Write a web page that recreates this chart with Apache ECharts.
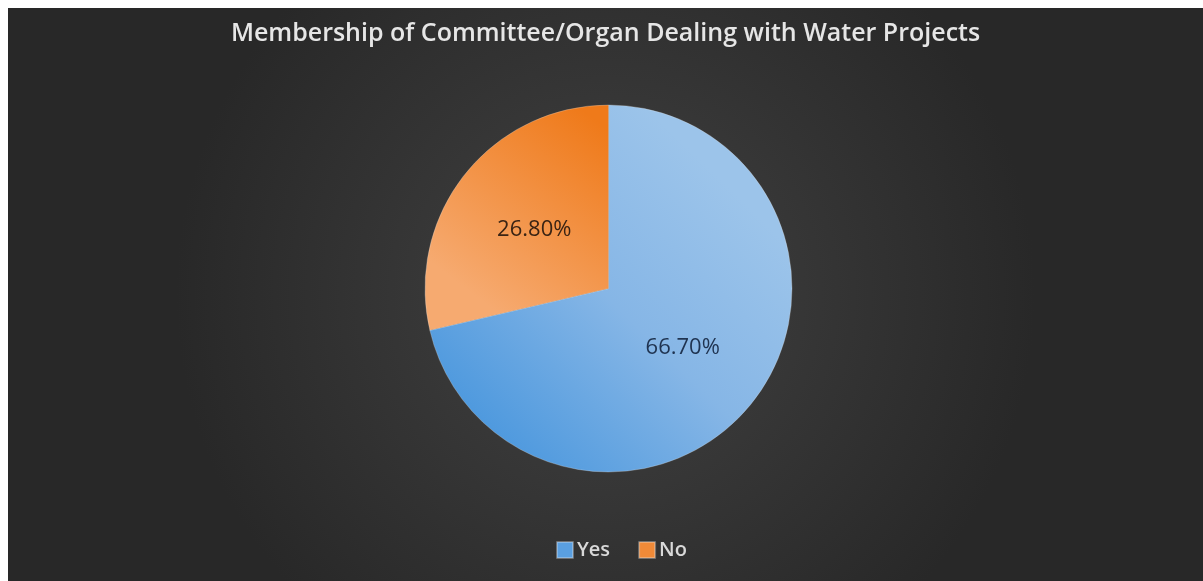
<!DOCTYPE html>
<html>
<head>
<meta charset="utf-8">
<script src="https://cdn.jsdelivr.net/npm/echarts@6/dist/echarts.min.js"></script>
<style>
  html, body { margin: 0; padding: 0; background: #ffffff; }
  #chart { position: absolute; left: 8px; top: 8px; width: 1195px; height: 573px; }
</style>
</head>
<body>
<div id="chart"></div>
<script>
const titleText = 'Membership of Committee/Organ Dealing with Water Projects';
const categories = ['Yes', 'No'];
const values = [66.7, 26.8];

const sliceColors = [
  { type: 'linear', x: 0.85, y: 0.25, x2: 0.15, y2: 0.95,
    colorStops: [{ offset: 0, color: '#9cc4ea' }, { offset: 0.45, color: '#86b6e6' }, { offset: 1, color: '#4896dd' }] },
  { type: 'linear', x: 0.9, y: 0.05, x2: 0.2, y2: 0.8,
    colorStops: [{ offset: 0, color: '#ef7a1a' }, { offset: 1, color: '#f6aa70' }] }
];
const labelColors = ['#1f3350', '#3a2414'];
const legendColors = ['#5a9fe0', '#f08a38'];

const chart = echarts.init(document.getElementById('chart'));
chart.setOption({
  backgroundColor: {
    type: 'radial', x: 0.5, y: 0.5, r: 0.75,
    colorStops: [{ offset: 0, color: '#424242' }, { offset: 1, color: '#282828' }]
  },
  title: {
    text: titleText,
    left: 'center',
    top: 8,
    textStyle: { color: '#e6e6e6', fontFamily: 'Open Sans', fontWeight: 600, fontSize: 25 }
  },
  legend: {
    left: 543,
    top: 527,
    icon: 'rect',
    itemWidth: 16,
    itemHeight: 16,
    itemGap: 28,
    textStyle: { color: '#d9d9d9', fontFamily: 'Open Sans', fontWeight: 600, fontSize: 20, padding: [0, 0, 0, -1] },
    data: categories.map((c, i) => ({ name: c, itemStyle: { color: legendColors[i] } }))
  },
  series: [{
    type: 'pie',
    center: [600.5, 280.5],
    radius: 183.5,
    startAngle: 90,
    clockwise: true,
    animation: false,
    itemStyle: { borderColor: 'rgba(230,230,230,0.35)', borderWidth: 0.8 },
    label: {
      show: true,
      position: 'inside',
      fontFamily: 'Open Sans',
      fontSize: 22,
      formatter: p => p.value.toFixed(2) + '%'
    },
    labelLine: { show: false },
    emphasis: { disabled: true },
    data: categories.map((c, i) => ({
      name: c,
      value: values[i],
      itemStyle: { color: sliceColors[i] },
      label: { color: labelColors[i] }
    }))
  }]
});
</script>
</body>
</html>
